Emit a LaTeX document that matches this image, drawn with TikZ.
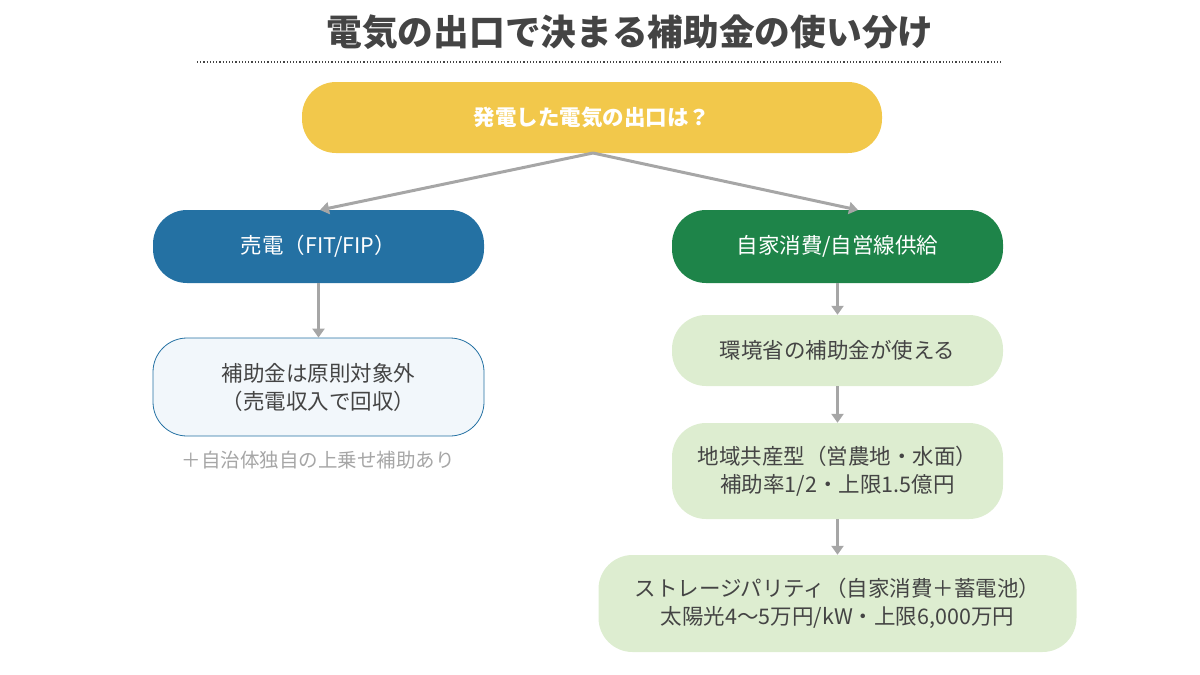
\documentclass[tikz,border=0pt]{standalone}
\usepackage{fontspec}
\setmainfont{Noto Sans CJK JP}
\usetikzlibrary{arrows.meta}
\definecolor{ylw}{HTML}{F2C84B}
\definecolor{blu}{HTML}{2471A3}
\definecolor{grn}{HTML}{1E8449}
\definecolor{lgrn}{HTML}{DDEDD0}
\definecolor{lblu}{HTML}{F2F7FB}
\definecolor{arr}{HTML}{A6A6A6}
\definecolor{txt}{HTML}{444444}
\begin{document}
\begin{tikzpicture}[x=1pt,y=-1pt,
 box/.style={rounded corners=34pt,minimum height=#1,align=center,font=\fontsize{21.5}{28}\selectfont,inner sep=0pt},
 ar/.style={draw=arr,line width=3pt,-{Triangle[length=9pt,width=12pt]}}]
\useasboundingbox (0,0) rectangle (1200,675);
\node[font=\fontsize{35.7}{40}\selectfont\bfseries,text=txt] (title) at (630,32) {電気の出口で決まる補助金の使い分け};
\draw[dotted,line width=1.2pt,txt] (197,62) -- (1003,62);
\node[box=71pt,fill=ylw,minimum width=580pt,text=white,font=\fontsize{21.5}{28}\selectfont\bfseries] (q) at (592,117.5) {発電した電気の出口は？};
\node[box=73pt,fill=blu,minimum width=331pt,text=white] (sell) at (318.5,246.5) {売電（FIT/FIP）};
\node[box=73pt,fill=grn,minimum width=331pt,text=white] (self) at (837.5,246.5) {自家消費/自営線供給};
\node[box=98pt,fill=lblu,draw=blu,line width=0.8pt,minimum width=331pt,text=txt] (out) at (318.5,387) {補助金は原則対象外\\（売電収入で回収）};
\node[text=arr,font=\fontsize{19.5}{24}\selectfont] (plus) at (318,460) {＋自治体独自の上乗せ補助あり};
\node[box=71pt,fill=lgrn,minimum width=331pt,text=txt] (env) at (837.5,350.5) {環境省の補助金が使える};
\node[box=96pt,fill=lgrn,minimum width=331pt,text=txt] (agri) at (837.5,471) {地域共産型（営農地・水面）\\補助率1/2・上限1.5億円};
\node[box=97pt,fill=lgrn,minimum width=478pt,text=txt] (sp) at (837.5,603.5) {ストレージパリティ（自家消費＋蓄電池）\\太陽光4〜5万円/kW・上限6,000万円};
\coordinate (qs) at (593,153);
\draw[ar] (qs) -- (320,210);
\draw[ar] (qs) -- (858,210);
\draw[ar] (sell.south) -- (out.north);
\draw[ar] (self.south) -- (env.north);
\draw[ar] (env.south) -- (agri.north);
\draw[ar] (agri.south) -- (sp.north);
\end{tikzpicture}
\end{document}
